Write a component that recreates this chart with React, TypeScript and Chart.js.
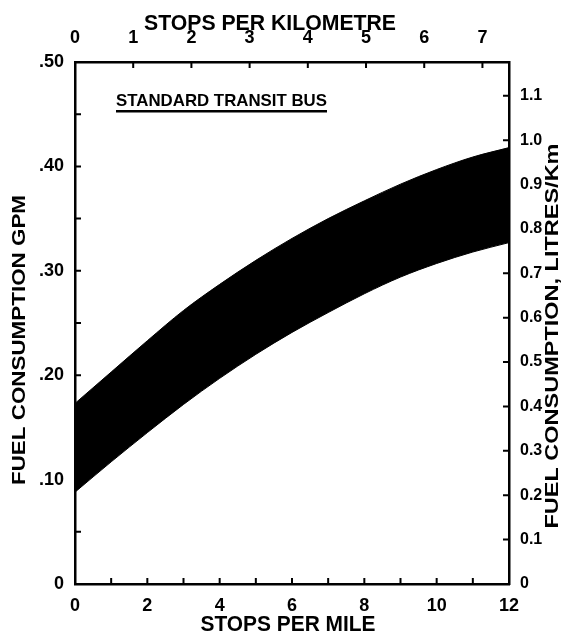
import React, { useEffect, useRef } from "react";
import { Chart, registerables } from "chart.js";

Chart.register(...registerables);

// Data (x: stops per mile, y: gallons per mile)
const stopsPerMile = [0, 1, 2, 3, 4, 5, 6, 7, 8, 9, 10, 11, 12];
const upperGpm = [0.173, 0.203, 0.233, 0.262, 0.287, 0.31, 0.331, 0.35, 0.367, 0.383, 0.397, 0.409, 0.418];
const lowerGpm = [0.088, 0.117, 0.145, 0.172, 0.197, 0.22, 0.241, 0.26, 0.278, 0.294, 0.307, 0.318, 0.327];

// Tick values
const bottomTicks = [0, 1, 2, 3, 4, 5, 6, 7, 8, 9, 10, 11, 12];
const leftTicks = [0, 0.05, 0.1, 0.15, 0.2, 0.25, 0.3, 0.35, 0.4, 0.45, 0.5];
const topTicks = [0, 1, 2, 3, 4, 5, 6, 7];
const rightTicks = [0, 0.1, 0.2, 0.3, 0.4, 0.5, 0.6, 0.7, 0.8, 0.9, 1.0, 1.1];

const MILE_KM = 1.609344;
const GAL_L = 3.785411784;
const X_MAX = 12;
const Y_MAX = 0.5;

const FONT = "'Liberation Sans', Arial, sans-serif";

function fitText(
  ctx: CanvasRenderingContext2D,
  text: string,
  cx: number,
  cy: number,
  size: number,
  targetW: number,
  rot: number
) {
  ctx.save();
  ctx.font = `bold ${size}px ${FONT}`;
  const w = ctx.measureText(text).width;
  ctx.translate(cx, cy);
  ctx.rotate(rot);
  ctx.scale(targetW / w, 1);
  ctx.fillStyle = "#000";
  ctx.textAlign = "center";
  ctx.textBaseline = "middle";
  ctx.fillText(text, 0, 0);
  ctx.restore();
}

const decorPlugin = {
  id: "decor",
  afterDraw(chart: any) {
    const ctx: CanvasRenderingContext2D = chart.ctx;
    const { left, right, top, bottom } = chart.chartArea;
    const len = 6;
    ctx.save();
    ctx.strokeStyle = "#000";
    ctx.lineWidth = 2;
    ctx.beginPath();
    const sx = chart.scales.x;
    sx.ticks.forEach((t: any) => {
      const p = sx.getPixelForValue(t.value);
      ctx.moveTo(p, bottom);
      ctx.lineTo(p, bottom - len);
    });
    const sx2 = chart.scales.x2;
    sx2.ticks.forEach((t: any) => {
      const p = sx2.getPixelForValue(t.value);
      ctx.moveTo(p, top);
      ctx.lineTo(p, top + len);
    });
    const sy = chart.scales.y;
    sy.ticks.forEach((t: any) => {
      const p = sy.getPixelForValue(t.value);
      ctx.moveTo(left, p);
      ctx.lineTo(left + len, p);
    });
    const sy2 = chart.scales.y2;
    sy2.ticks.forEach((t: any) => {
      const p = sy2.getPixelForValue(t.value);
      ctx.moveTo(right, p);
      ctx.lineTo(right - len, p);
    });
    ctx.stroke();
    ctx.restore();

    // Titles
    fitText(ctx, "STOPS PER KILOMETRE", 270, 24, 22, 252, 0);
    fitText(ctx, "STOPS PER MILE", 288, 625, 22, 175, 0);
    fitText(ctx, "FUEL CONSUMPTION GPM", 20, 340, 19, 290, -Math.PI / 2);
    fitText(ctx, "FUEL CONSUMPTION, LITRES/Km", 553, 336, 19, 385, -Math.PI / 2);

    // Inset label with underline
    ctx.save();
    ctx.font = `bold 17px ${FONT}`;
    const text = "STANDARD TRANSIT BUS";
    const w = ctx.measureText(text).width;
    const tx = 116;
    const tw = 211;
    ctx.translate(tx, 101);
    ctx.scale(tw / w, 1);
    ctx.fillStyle = "#000";
    ctx.textBaseline = "middle";
    ctx.fillText(text, 0, 0);
    ctx.restore();
    ctx.save();
    ctx.fillStyle = "#000";
    ctx.fillRect(tx, 110, tw, 2.5);
    ctx.restore();
  },
};

export default function App() {
  const ref = useRef<HTMLCanvasElement | null>(null);

  useEffect(() => {
    document.body.style.margin = "0";
    const canvas = ref.current;
    if (!canvas) return;
    const tickFont = { family: FONT, size: 18, weight: "bold" as const };
    const chart = new Chart(canvas, {
      type: "line",
      data: {
        datasets: [
          {
            label: "upper",
            data: stopsPerMile.map((x, i) => ({ x, y: upperGpm[i] })),
            borderColor: "#000",
            backgroundColor: "#000",
            borderWidth: 1,
            pointRadius: 0,
            cubicInterpolationMode: "monotone",
            fill: "+1",
            xAxisID: "x",
            yAxisID: "y",
          },
          {
            label: "lower",
            data: stopsPerMile.map((x, i) => ({ x, y: lowerGpm[i] })),
            borderColor: "#000",
            backgroundColor: "#000",
            borderWidth: 1,
            pointRadius: 0,
            cubicInterpolationMode: "monotone",
            fill: false,
            xAxisID: "x",
            yAxisID: "y",
          },
        ],
      },
      options: {
        responsive: false,
        animation: false,
        layout: { padding: 0 },
        plugins: { legend: { display: false }, tooltip: { enabled: false }, title: { display: false } },
        scales: {
          x: {
            type: "linear",
            position: "bottom",
            min: 0,
            max: X_MAX,
            afterBuildTicks: (s: any) => {
              s.ticks = bottomTicks.map((v) => ({ value: v }));
            },
            afterFit: (s: any) => {
              s.height = 56;
            },
            grid: { display: false },
            border: { display: true, color: "#000", width: 2.5 },
            ticks: {
              autoSkip: false,
              maxRotation: 0,
              padding: 3,
              color: "#000",
              font: tickFont,
              callback: (v: any) => (Number(v) % 2 === 0 ? String(v) : ""),
            },
          },
          x2: {
            type: "linear",
            position: "top",
            min: 0,
            max: X_MAX / MILE_KM,
            afterBuildTicks: (s: any) => {
              s.ticks = topTicks.map((v) => ({ value: v }));
            },
            afterFit: (s: any) => {
              s.height = 62;
            },
            grid: { display: false },
            border: { display: true, color: "#000", width: 2.5 },
            ticks: {
              autoSkip: false,
              maxRotation: 0,
              padding: 5,
              color: "#000",
              font: tickFont,
              callback: (v: any) => String(v),
            },
          },
          y: {
            type: "linear",
            position: "left",
            min: 0,
            max: Y_MAX,
            afterBuildTicks: (s: any) => {
              s.ticks = leftTicks.map((v) => ({ value: v }));
            },
            afterFit: (s: any) => {
              s.width = 75;
            },
            grid: { display: false },
            border: { display: true, color: "#000", width: 2.5 },
            ticks: {
              autoSkip: false,
              padding: 3,
              color: "#000",
              font: tickFont,
              callback: (v: any) => {
                const n = Math.round(Number(v) * 100);
                if (n === 0) return "0";
                if (n % 10 !== 0) return "";
                return "." + String(n);
              },
            },
          },
          y2: {
            type: "linear",
            position: "right",
            min: 0,
            max: (Y_MAX * GAL_L) / MILE_KM,
            afterBuildTicks: (s: any) => {
              s.ticks = rightTicks.map((v) => ({ value: v }));
            },
            afterFit: (s: any) => {
              s.width = 64;
            },
            grid: { display: false },
            border: { display: true, color: "#000", width: 2.5 },
            ticks: {
              autoSkip: false,
              padding: 3,
              color: "#000",
              font: { family: FONT, size: 16, weight: "bold" as const },
              callback: (v: any) => {
                const n = Number(v);
                return n === 0 ? "0" : n.toFixed(1);
              },
            },
          },
        },
      },
      plugins: [decorPlugin],
    });
    return () => chart.destroy();
  }, []);

  return (
    <div style={{ width: 573, height: 640, background: "#fff" }}>
      <canvas ref={ref} width={573} height={640} style={{ display: "block" }} />
    </div>
  );
}
